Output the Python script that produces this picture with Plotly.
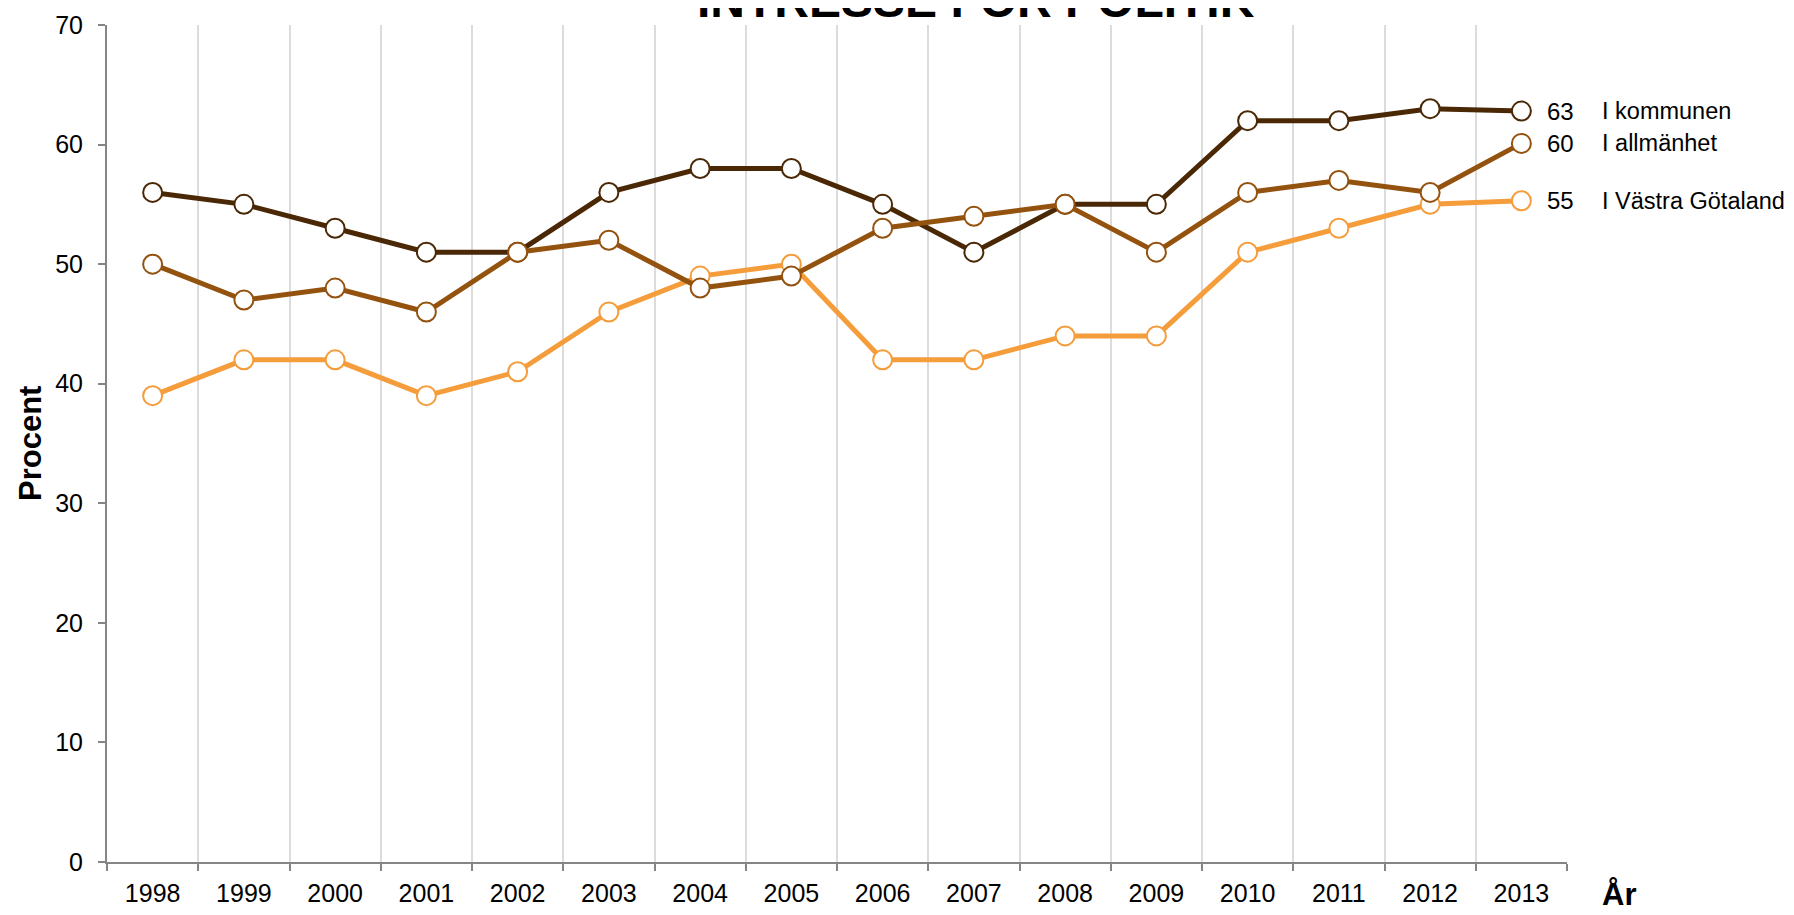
import plotly.graph_objects as go

years = ["1998", "1999", "2000", "2001", "2002", "2003", "2004", "2005",
         "2006", "2007", "2008", "2009", "2010", "2011", "2012", "2013"]

kommunen = [56, 55, 53, 51, 51, 56, 58, 58, 55, 51, 55, 55, 62, 62, 63, 62.8]
allmanhet = [50, 47, 48, 46, 51, 52, 48, 49, 53, 54, 55, 51, 56, 57, 56, 60.1]
vastra_gotaland = [39, 42, 42, 39, 41, 46, 49, 50, 42, 42, 44, 44, 51, 53, 55, 55.3]

series_names = ["I kommunen", "I allmänhet", "I Västra Götaland"]
series_values = [kommunen, allmanhet, vastra_gotaland]
series_colors = ["#4a2806", "#94520f", "#f59c3b"]
draw_order = [0, 2, 1]

title_text = "INTRESSE FÖR POLITIK"
y_title = "Procent"
x_title = "År"

FONT = "Liberation Sans, Arial, sans-serif"
OFF = 8  # default page body margin
W, H = 1794 - 2 * OFF, 915 - 2 * OFF
L, T = 107 - OFF, 25 - OFF
PW, PH = 1460, 837
R = W - L - PW
B = H - T - PH


def px_x(px):
    return (px - OFF - L) / PW


def px_y(py):
    return (T + PH - (py - OFF)) / PH


fig = go.Figure()
for i in draw_order:
    fig.add_trace(go.Scatter(
        x=years, y=series_values[i], name=series_names[i], mode="lines+markers",
        line=dict(color=series_colors[i], width=5),
        marker=dict(size=19, color="white", line=dict(color=series_colors[i], width=2)),
        showlegend=False, cliponaxis=False,
    ))

annotations = []
for i in range(3):
    vals = series_values[i]
    annotations.append(dict(
        x=years[0], y=vals[0], xref="x", yref="y", text=str(round(vals[0])),
        showarrow=False, yshift=35, font=dict(family=FONT, size=24, color="black"),
        xanchor="center", yanchor="middle"))
    annotations.append(dict(
        x=px_x(1545), y=vals[-1], xref="paper", yref="y", text=str(round(vals[-1])),
        showarrow=False, font=dict(family=FONT, size=24, color="black"),
        xanchor="left", yanchor="middle"))
    annotations.append(dict(
        x=px_x(1600), y=vals[-1], xref="paper", yref="y", text=series_names[i],
        showarrow=False, font=dict(family=FONT, size=23.5, color="black"),
        xanchor="left", yanchor="middle"))

annotations.append(dict(
    x=px_x(976), y=px_y(1), xref="paper", yref="paper", text="<b>" + title_text + "</b>",
    showarrow=False, font=dict(family=FONT, size=48, color="black"),
    xanchor="center", yanchor="middle"))
annotations.append(dict(
    x=px_x(30), y=px_y(444), xref="paper", yref="paper", text="<b>" + y_title + "</b>",
    showarrow=False, textangle=-90, font=dict(family=FONT, size=31, color="black"),
    xanchor="center", yanchor="middle"))
annotations.append(dict(
    x=px_x(1619), y=px_y(894), xref="paper", yref="paper", text="<b>" + x_title + "</b>",
    showarrow=False, font=dict(family=FONT, size=31, color="black"),
    xanchor="center", yanchor="middle"))

fig.update_layout(
    width=W, height=H, autosize=False,
    margin=dict(l=L, r=R, t=T, b=B, pad=0, autoexpand=False),
    paper_bgcolor="white", plot_bgcolor="white",
    font=dict(family=FONT, size=24, color="black"),
    annotations=annotations,
    xaxis=dict(
        type="category", tickson="boundaries", range=[-0.5, 15.5],
        automargin=False,
        showgrid=True, gridcolor="#dcdcdc", gridwidth=1.5,
        showline=True, linecolor="#858585", linewidth=2,
        ticks="outside", ticklen=7, tickcolor="#858585", tickwidth=1.5,
        tickfont=dict(family=FONT, size=25, color="black"),
        ticklabelstandoff=8,
        zeroline=False,
    ),
    yaxis=dict(
        range=[0, 70], tickvals=[0, 10, 20, 30, 40, 50, 60, 70],
        automargin=False,
        showgrid=False, zeroline=False,
        showline=True, linecolor="#858585", linewidth=2,
        ticks="outside", ticklen=7, tickcolor="#858585", tickwidth=1.5,
        tickfont=dict(family=FONT, size=25, color="black"),
        ticklabelstandoff=10,
    ),
)

fig.write_html("out.html")
